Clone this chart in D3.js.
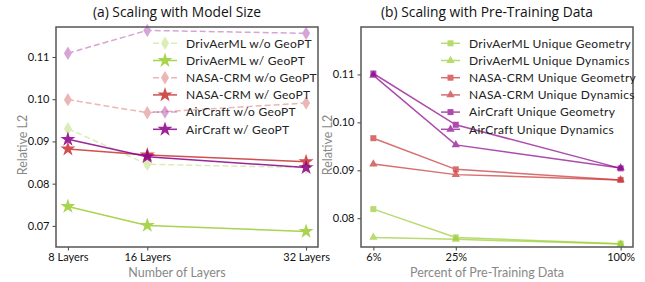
<!DOCTYPE html>
<html>
<head>
<meta charset="utf-8">
<script src="https://cdn.jsdelivr.net/npm/d3@7"></script>
<style>
	body { margin: 0; background: #fff; }
	svg text { font-family: Lato, 'DejaVu Sans', sans-serif; }
	.title { font-family: 'Open Sans', sans-serif; font-size: 13.8px; fill: #111; }
	.axis-label { font-size: 12.5px; fill: #888; }
	.tick text { font-size: 11px; fill: #111; }
	.legend text { font-size: 12px; letter-spacing: 0.3px; fill: #222; }
</style>
</head>
<body>
<script>
// (a) Scaling with Model Size
var layers = [8, 16, 32];
var layerLabels = ['8 Layers', '16 Layers', '32 Layers'];
var drivNoGeo = [0.0930, 0.0846, 0.0838];
var drivGeo = [0.0746, 0.0701, 0.0687];
var nasaNoGeo = [0.0999, 0.0968, 0.0991];
var nasaGeo = [0.0882, 0.0868, 0.0852];
var airNoGeo = [0.1109, 0.1163, 0.1156];
var airGeo = [0.0905, 0.0864, 0.0838];
var ticksA = [0.07, 0.08, 0.09, 0.10, 0.11];

// (b) Scaling with Pre-Training Data
var dataPos = [1, 2, 4];
var dataLabels = ['6%', '25%', '100%'];
var drivUGeom = [0.0819, 0.0760, 0.0747];
var drivUDyn = [0.0760, 0.0756, 0.0746];
var nasaUGeom = [0.0967, 0.0902, 0.0880];
var nasaUDyn = [0.0913, 0.0891, 0.0880];
var airUGeom = [0.1102, 0.0995, 0.0904];
var airUDyn = [0.1098, 0.0953, 0.0905];
var ticksB = [0.08, 0.09, 0.10, 0.11];

var green = '#9acd32', red = '#c83232', purple = '#8b008b';

var svg = d3.select('body').append('svg')
	.attr('width', 645)
	.attr('height', 282);

// thin diamond like matplotlib 'd'
var thinDiamond = {
	draw: function(ctx, size) {
		var h = Math.sqrt(size) * 0.75, w = h * 0.6;
		ctx.moveTo(0, -h); ctx.lineTo(w, 0); ctx.lineTo(0, h); ctx.lineTo(-w, 0); ctx.closePath();
	}
};

function drawPanel(opt) {
	var g = svg.append('g');
	var x = d3.scaleLinear().domain(opt.xDomain).range([opt.left, opt.right]);
	var y = d3.scaleLinear().domain(opt.yDomain).range([opt.bottom, opt.top]);

	g.append('g')
		.attr('transform', 'translate(0,' + opt.bottom + ')')
		.call(d3.axisBottom(x).tickValues(opt.xs).tickFormat(function(d, i) { return opt.xLabels[i]; }).tickSize(3.5).tickPadding(3))
		.call(function(a) { a.select('.domain').remove(); a.selectAll('line').attr('stroke', '#444'); });
	g.append('g')
		.attr('transform', 'translate(' + opt.left + ',0)')
		.call(d3.axisLeft(y).tickValues(opt.yTicks).tickFormat(d3.format('.2f')).tickSize(3.5).tickPadding(3))
		.call(function(a) { a.select('.domain').remove(); a.selectAll('line').attr('stroke', '#444'); });

	var line = d3.line()
		.x(function(d, i) { return x(opt.xs[i]); })
		.y(function(d) { return y(d); });

	opt.series.forEach(function(s) {
		var sg = g.append('g').attr('opacity', s.alpha);
		sg.append('path')
			.attr('d', line(s.values))
			.attr('fill', 'none')
			.attr('stroke', s.color)
			.attr('stroke-width', 1.5)
			.attr('stroke-dasharray', s.dashed ? '6,3' : null);
		sg.selectAll('path.m')
			.data(s.values)
			.enter().append('path')
				.attr('class', 'm')
				.attr('transform', function(d, i) { return 'translate(' + x(opt.xs[i]) + ',' + y(d) + ')'; })
				.attr('d', d3.symbol().type(s.symbol).size(s.size))
				.attr('fill', s.color);
	});

	// frame
	g.append('rect')
		.attr('x', opt.left).attr('y', opt.top)
		.attr('width', opt.right - opt.left).attr('height', opt.bottom - opt.top)
		.attr('fill', 'none').attr('stroke', '#555').attr('stroke-width', 1.5);

	// legend
	var leg = g.append('g').attr('class', 'legend');
	opt.series.forEach(function(s, i) {
		var ly = opt.legY + i * 17.2;
		var lg = leg.append('g').attr('opacity', s.alpha);
		lg.append('line')
			.attr('x1', opt.legX).attr('x2', opt.legX + opt.legLen)
			.attr('y1', ly).attr('y2', ly)
			.attr('stroke', s.color).attr('stroke-width', 1.5)
			.attr('stroke-dasharray', s.dashed ? '6,3' : null);
		lg.append('path')
			.attr('transform', 'translate(' + (opt.legX + opt.legLen / 2) + ',' + ly + ')')
			.attr('d', d3.symbol().type(s.symbol).size(s.size))
			.attr('fill', s.color);
		leg.append('text')
			.attr('x', opt.legX + opt.legLen + 9)
			.attr('y', ly)
			.attr('dy', '0.35em')
			.text(s.name);
	});

	// titles sit a little left of the axes centre in the original
	var cx = (opt.left + opt.right) / 2 - 10;
	svg.append('text').attr('class', 'title')
		.attr('x', cx).attr('y', 17).attr('text-anchor', 'middle').text(opt.title);
	svg.append('text').attr('class', 'axis-label')
		.attr('x', cx).attr('y', 277).attr('text-anchor', 'middle').text(opt.xTitle);
	svg.append('text').attr('class', 'axis-label')
		.attr('transform', 'translate(' + opt.yTitleX + ',' + ((opt.top + opt.bottom) / 2 + 8) + ') rotate(-90)')
		.attr('text-anchor', 'middle').text('Relative L2');
}

drawPanel({
	title: '(a) Scaling with Model Size',
	xTitle: 'Number of Layers',
	left: 56, right: 318, top: 27, bottom: 247,
	xDomain: [6.8, 33.2], yDomain: [0.0650, 0.1171],
	xs: layers, xLabels: layerLabels, yTicks: ticksA,
	yTitleX: 27,
	legX: 153, legLen: 24, legY: 43.3,
	series: [
		{name: 'DrivAerML w/o GeoPT', values: drivNoGeo, color: green, dashed: true, alpha: 0.35, symbol: thinDiamond, size: 80},
		{name: 'DrivAerML w/ GeoPT', values: drivGeo, color: green, dashed: false, alpha: 0.85, symbol: d3.symbolStar, size: 70},
		{name: 'NASA-CRM w/o GeoPT', values: nasaNoGeo, color: red, dashed: true, alpha: 0.35, symbol: thinDiamond, size: 80},
		{name: 'NASA-CRM w/ GeoPT', values: nasaGeo, color: red, dashed: false, alpha: 0.85, symbol: d3.symbolStar, size: 70},
		{name: 'AirCraft w/o GeoPT', values: airNoGeo, color: purple, dashed: true, alpha: 0.35, symbol: thinDiamond, size: 80},
		{name: 'AirCraft w/ GeoPT', values: airGeo, color: purple, dashed: false, alpha: 0.85, symbol: d3.symbolStar, size: 70}
	]
});

drawPanel({
	title: '(b) Scaling with Pre-Training Data',
	xTitle: 'Percent of Pre-Training Data',
	left: 361, right: 633, top: 27, bottom: 247,
	xDomain: [0.85, 4.15], yDomain: [0.0740, 0.1199],
	xs: dataPos, xLabels: dataLabels, yTicks: ticksB,
	yTitleX: 332,
	legX: 441, legLen: 19, legY: 43.3,
	series: [
		{name: 'DrivAerML Unique Geometry', values: drivUGeom, color: green, dashed: false, alpha: 0.7, symbol: d3.symbolSquare, size: 36},
		{name: 'DrivAerML Unique Dynamics', values: drivUDyn, color: green, dashed: false, alpha: 0.7, symbol: d3.symbolTriangle, size: 30},
		{name: 'NASA-CRM Unique Geometry', values: nasaUGeom, color: red, dashed: false, alpha: 0.7, symbol: d3.symbolSquare, size: 36},
		{name: 'NASA-CRM Unique Dynamics', values: nasaUDyn, color: red, dashed: false, alpha: 0.7, symbol: d3.symbolTriangle, size: 30},
		{name: 'AirCraft Unique Geometry', values: airUGeom, color: purple, dashed: false, alpha: 0.7, symbol: d3.symbolSquare, size: 36},
		{name: 'AirCraft Unique Dynamics', values: airUDyn, color: purple, dashed: false, alpha: 0.7, symbol: d3.symbolTriangle, size: 30}
	]
});
</script>
</body>
</html>
